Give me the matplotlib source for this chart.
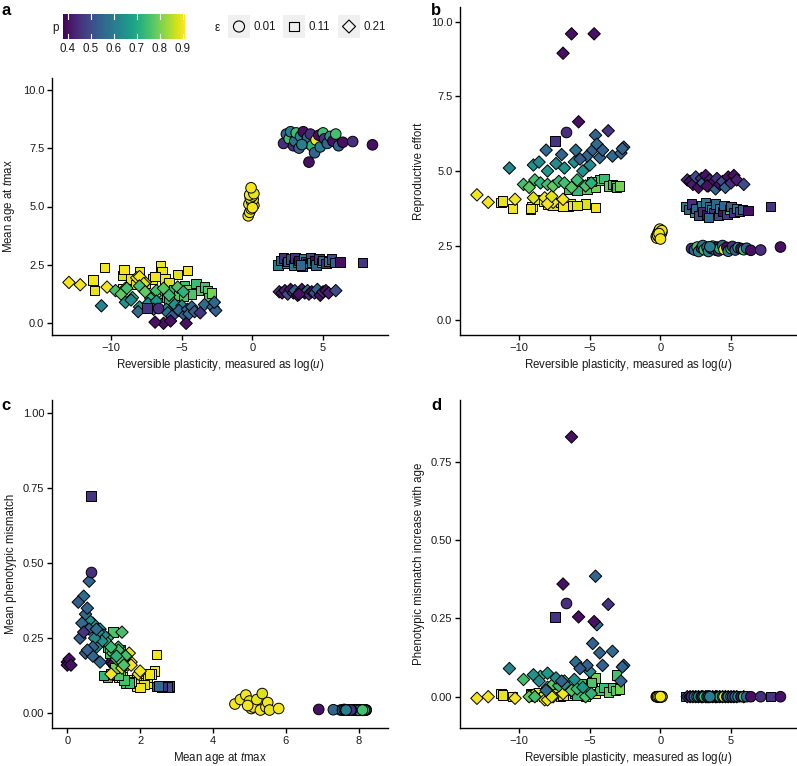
import numpy as np
import matplotlib
matplotlib.use("Agg")
import matplotlib.pyplot as plt
from matplotlib.colors import Normalize

plt.rcParams['font.family'] = ['Liberation Sans', 'DejaVu Sans']
plt.rcParams['mathtext.fontset'] = 'custom'
plt.rcParams['mathtext.rm'] = 'Liberation Sans'
plt.rcParams['mathtext.it'] = 'Liberation Sans:italic'

# --- eps = 0.01, high plasticity (circles) ---
logu_circ = [2.2, 2.4, 2.6, 2.7, 2.9, 3.0, 3.1, 3.3, 3.4, 3.6, 3.7, 3.9, 4.0, 4.1, 4.2,
             4.4, 4.5, 4.7, 4.8, 5.0, 5.1, 5.3, 5.5, 5.7, 5.9, 6.1, 6.4, 7.1, 8.5, 3.5]
p_circ = [0.45, 0.55, 0.75, 0.6, 0.45, 0.58, 0.75, 0.55, 0.62, 0.4, 0.75, 0.57, 0.4, 0.45, 0.72,
          0.55, 0.9, 0.4, 0.6, 0.75, 0.45, 0.55, 0.65, 0.4, 0.75, 0.55, 0.4, 0.45, 0.4, 0.6]
age_circ = [7.7, 8.1, 7.9, 8.2, 7.6, 7.8, 8.15, 7.5, 8.0, 8.2, 7.7, 7.95, 6.9, 8.1, 7.6,
            7.3, 7.85, 8.05, 7.55, 8.15, 7.9, 7.7, 8.0, 7.8, 8.1, 7.6, 7.75, 7.78, 7.64, 7.65]
effort_circ = [2.4, 2.35, 2.45, 2.3, 2.42, 2.5, 2.36, 2.44, 2.3, 2.4, 2.48, 2.35, 2.45, 2.32, 2.4,
               2.5, 2.37, 2.44, 2.31, 2.4, 2.47, 2.35, 2.43, 2.4, 2.36, 2.41, 2.34, 2.35, 2.45, 2.46]
mis_circ = [0.01, 0.009, 0.011, 0.01, 0.012, 0.01, 0.009, 0.01, 0.011, 0.01, 0.01, 0.009, 0.012, 0.01, 0.01,
            0.011, 0.01, 0.009, 0.01, 0.01, 0.011, 0.01, 0.009, 0.01, 0.01, 0.011, 0.01, 0.01, 0.01, 0.01]
inc_circ = [0.0] * 30

# --- eps = 0.01, log(u) near 0 (yellow circles) ---
logu_mid = [-0.3, -0.2, -0.1, 0.0, 0.1, -0.25, -0.05, 0.05, -0.15, 0.0, -0.2, 0.1, -0.1, 0.0]
p_mid = [0.9, 0.89, 0.9, 0.88, 0.9, 0.9, 0.89, 0.9, 0.88, 0.9, 0.9, 0.89, 0.9, 0.9]
age_mid = [4.6, 4.75, 4.9, 5.0, 5.05, 5.1, 5.2, 5.3, 5.35, 5.45, 5.5, 5.55, 5.8, 4.95]
effort_mid = [2.8, 2.9, 3.0, 2.85, 2.95, 2.75, 3.05, 2.9, 2.8, 2.95, 2.85, 3.0, 2.9, 2.72]
mis_mid = [0.03, 0.045, 0.06, 0.04, 0.015, 0.02, 0.045, 0.01, 0.065, 0.02, 0.035, 0.01, 0.015, 0.025]
inc_mid = [0.0] * 14

# --- eps = 0.11, high plasticity (squares) ---
logu_sq = [1.8, 2.0, 2.2, 2.4, 2.5, 2.7, 2.9, 3.0, 3.2, 3.3, 3.5, 3.6, 3.8, 3.9, 4.1,
           4.2, 4.4, 4.5, 4.7, 4.9, 5.0, 5.2, 5.4, 5.6, 5.8, 6.2, 7.8, 3.4]
p_sq = [0.6, 0.55, 0.45, 0.65, 0.55, 0.5, 0.6, 0.45, 0.58, 0.4, 0.55, 0.62, 0.45, 0.55, 0.5,
        0.6, 0.4, 0.55, 0.47, 0.75, 0.55, 0.45, 0.6, 0.5, 0.55, 0.4, 0.46, 0.56]
age_sq = [2.5, 2.7, 2.8, 2.55, 2.65, 2.75, 2.5, 2.8, 2.6, 2.7, 2.45, 2.75, 2.65, 2.55, 2.8,
          2.6, 2.7, 2.5, 2.75, 2.6, 2.7, 2.55, 2.65, 2.75, 2.6, 2.62, 2.6, 2.5]
effort_sq = [3.8, 3.7, 3.9, 3.6, 3.75, 3.5, 3.85, 3.65, 3.95, 3.55, 3.8, 3.7, 3.6, 3.9, 3.5,
             3.75, 3.65, 3.85, 3.55, 3.7, 3.8, 3.6, 3.75, 3.65, 3.7, 3.68, 3.8, 3.45]
mis_sq = [0.088, 0.09, 0.086, 0.089, 0.09, 0.087, 0.088, 0.09, 0.086, 0.089, 0.088, 0.09, 0.087, 0.088,
          0.09, 0.086, 0.089, 0.088, 0.09, 0.087, 0.088, 0.089, 0.09, 0.087, 0.088, 0.089, 0.088, 0.09]
inc_sq = [0.0] * 28

# --- eps = 0.21, high plasticity (diamonds) ---
logu_dia = [1.9, 2.1, 2.3, 2.5, 2.7, 2.9, 3.0, 3.2, 3.4, 3.5, 3.7, 3.9, 4.0, 4.2, 4.4,
            4.6, 4.8, 5.0, 5.2, 5.4, 5.9, 3.3]
p_dia = [0.45, 0.4, 0.42, 0.5, 0.4, 0.45, 0.55, 0.4, 0.47, 0.42, 0.4, 0.55, 0.45, 0.4, 0.5,
         0.55, 0.4, 0.45, 0.4, 0.42, 0.5, 0.4]
age_dia = [1.35, 1.3, 1.4, 1.25, 1.45, 1.3, 1.4, 1.2, 1.35, 1.45, 1.3, 1.4, 1.25, 1.35, 1.3,
           1.45, 1.2, 1.35, 1.4, 1.3, 1.4, 1.25]
effort_dia = [4.7, 4.65, 4.55, 4.8, 4.45, 4.75, 4.6, 4.85, 4.5, 4.7, 4.6, 4.4, 4.75, 4.55, 4.65,
              4.45, 4.8, 4.6, 4.85, 4.7, 4.55, 4.5]
mis_dia = [0.16, 0.17, 0.155, 0.165, 0.175, 0.16, 0.15, 0.17, 0.165, 0.155, 0.17, 0.16, 0.175, 0.165,
           0.16, 0.15, 0.17, 0.165, 0.16, 0.155, 0.17, 0.165]
inc_dia = [0.0] * 22

# --- eps = 0.11, low plasticity, yellow squares ---
logu_sqy = [-11.3, -11.2, -10.5, -9.2, -9.1, -9.2, -8.6, -8.0, -7.6, -7.1, -6.5, -6.4, -6.2, -5.3,
            -4.6, -8.3, -6.9, -5.9]
p_sqy = [0.9, 0.89, 0.9, 0.88, 0.9, 0.9, 0.89, 0.9, 0.88, 0.9, 0.9, 0.89, 0.9, 0.88, 0.9, 0.89, 0.9, 0.88]
age_sqy = [1.85, 1.4, 2.4, 2.05, 2.3, 1.5, 1.9, 2.2, 1.7, 1.9, 2.45, 2.2, 1.9, 2.1, 2.25, 1.65, 2.0, 1.75]
effort_sqy = [3.95, 4.0, 3.75, 3.7, 3.8, 3.75, 4.05, 3.9, 3.85, 3.95, 3.8, 3.9, 3.85, 3.9, 3.78, 4.0,
              3.8, 3.85]
mis_sqy = [0.10, 0.12, 0.14, 0.10, 0.13, 0.12, 0.10, 0.10, 0.11, 0.09, 0.195, 0.12, 0.11, 0.095,
           0.13, 0.10, 0.085, 0.105]
inc_sqy = [0.01, 0.005, 0.0, 0.01, 0.0, 0.005, 0.012, 0.0, 0.008, 0.0, 0.01, 0.015, 0.005, 0.0,
           0.01, 0.0, 0.005, 0.012]

# --- eps = 0.11, low plasticity, green squares ---
logu_sqg = [-6.5, -6.1, -5.6, -5.2, -4.8, -4.6, -4.3, -4.0, -3.7, -3.4, -3.2, -3.1, -2.9, -5.9, -4.9]
p_sqg = [0.75, 0.78, 0.74, 0.77, 0.75, 0.8, 0.76, 0.74, 0.78, 0.75, 0.77, 0.75, 0.8, 0.73, 0.76]
age_sqg = [1.3, 1.1, 1.45, 1.2, 1.6, 1.45, 1.25, 1.7, 1.4, 1.55, 1.4, 1.1, 1.3, 1.0, 1.15]
effort_sqg = [4.4, 4.45, 4.55, 4.4, 4.6, 4.45, 4.7, 4.75, 4.5, 4.55, 4.5, 4.45, 4.5, 4.35, 4.65]
mis_sqg = [0.125, 0.12, 0.21, 0.13, 0.10, 0.125, 0.27, 0.10, 0.18, 0.11, 0.125, 0.22, 0.15, 0.125, 0.20]
inc_sqg = [0.02, 0.01, 0.04, 0.03, 0.05, 0.06, 0.02, 0.03, 0.015, 0.03, 0.02, 0.07, 0.025, 0.005, 0.045]

# --- eps = 0.21, low plasticity (diamonds) ---
logu_dlo = [-13.0, -12.2, -10.3, -9.0, -8.2, -7.6, -6.9, -8.0, -7.7,
            -9.7, -9.3, -8.9, -8.5, -8.0, -7.6, -7.2, -6.8, -6.3, -5.9, -5.3, -4.9,
            -10.7, -9.0, -8.6, -8.0, -7.4, -6.8, -6.1, -5.5, -5.0,
            -8.1, -7.0, -6.0, -5.2, -4.8, -4.6, -4.5, -4.3, -4.1, -3.4, -2.8, -2.6, -2.7, -5.7,
            -3.7, -6.3, -4.7, -6.9, -5.8]
p_dlo = [0.9, 0.9, 0.9, 0.88, 0.9, 0.9, 0.9, 0.9, 0.88,
         0.75, 0.78, 0.75, 0.72, 0.75, 0.78, 0.73, 0.75, 0.77, 0.74, 0.76, 0.72,
         0.62, 0.65, 0.63, 0.66, 0.63, 0.65, 0.64, 0.65, 0.63,
         0.56, 0.55, 0.57, 0.55, 0.54, 0.55, 0.56, 0.55, 0.54, 0.56, 0.55, 0.54, 0.55, 0.53,
         0.46, 0.4, 0.4, 0.4, 0.4]
age_dlo = [1.75, 1.65, 1.55, 1.5, 1.95, 1.75, 1.2, 2.0, 1.7,
           1.4, 1.25, 1.5, 1.1, 1.6, 1.35, 1.05, 1.4, 1.5, 1.2, 1.55, 1.35,
           0.75, 0.9, 1.0, 0.7, 0.85, 0.95, 0.6, 0.8, 0.75,
           0.5, 0.6, 0.45, 0.55, 0.35, 0.6, 0.4, 0.7, 0.5, 0.8, 0.7, 0.55, 0.9, 0.3,
           0.45, 0.0, 0.0, 0.05, 0.1]
effort_dlo = [4.2, 3.95, 4.05, 4.1, 4.1, 3.95, 4.05, 3.9, 4.15,
              4.55, 4.45, 4.7, 4.6, 4.55, 4.5, 4.65, 4.6, 4.45, 4.7, 4.5, 4.6,
              5.1, 5.2, 5.3, 5.0, 5.25, 5.1, 5.3, 5.0, 5.2,
              5.7, 5.55, 5.7, 5.5, 5.7, 6.2, 5.9, 5.45, 5.7, 5.5, 5.6, 5.8, 5.75, 5.4,
              6.35, 9.6, 9.6, 8.95, 6.65]
mis_dlo = [0.17, 0.16, 0.18, 0.15, 0.13, 0.16, 0.13, 0.14, 0.20,
           0.22, 0.20, 0.27, 0.25, 0.19, 0.18, 0.24, 0.21, 0.17, 0.22, 0.16, 0.19,
           0.29, 0.28, 0.26, 0.30, 0.27, 0.24, 0.31, 0.22, 0.25,
           0.33, 0.28, 0.39, 0.35, 0.25, 0.44, 0.30, 0.22, 0.20, 0.28, 0.19, 0.21, 0.17, 0.37,
           0.27, 0.17, 0.16, 0.18, 0.16]
inc_dlo = [-0.005, 0.0, -0.005, 0.005, -0.01, 0.0, 0.01, -0.01, 0.0,
           0.055, 0.0, 0.0, 0.065, 0.03, 0.04, 0.035, 0.05, 0.02, 0.025, 0.0, 0.01,
           0.09, 0.07, 0.05, 0.075, 0.06, 0.04, 0.055, 0.03, 0.08,
           0.02, 0.05, 0.11, 0.10, 0.17, 0.385, 0.23, 0.14, 0.10, 0.145, 0.05, 0.10, 0.095, 0.09,
           0.295, 0.83, 0.24, 0.36, 0.255]

# --- two single outliers ---
logu_odd = [-6.7, -7.5]
p_odd = [0.45, 0.46]
eps_odd = ['o', 's']
age_odd = [0.65, 0.65]
effort_odd = [6.3, 6.0]
mis_odd = [0.47, 0.725]
inc_odd = [0.30, 0.255]

groups = [
    ('s', logu_sq, p_sq, age_sq, effort_sq, mis_sq, inc_sq),
    ('D', logu_dia, p_dia, age_dia, effort_dia, mis_dia, inc_dia),
    ('o', logu_circ, p_circ, age_circ, effort_circ, mis_circ, inc_circ),
    ('o', logu_mid, p_mid, age_mid, effort_mid, mis_mid, inc_mid),
    ('s', logu_sqy, p_sqy, age_sqy, effort_sqy, mis_sqy, inc_sqy),
    ('s', logu_sqg, p_sqg, age_sqg, effort_sqg, mis_sqg, inc_sqg),
    ('D', logu_dlo, p_dlo, age_dlo, effort_dlo, mis_dlo, inc_dlo),
]
for i in range(len(logu_odd)):
    groups.append((eps_odd[i], [logu_odd[i]], [p_odd[i]], [age_odd[i]],
                   [effort_odd[i]], [mis_odd[i]], [inc_odd[i]]))

sizes = {'o': 58, 's': 46, 'D': 40}
norm = Normalize(vmin=0.378, vmax=0.909)
cmap = plt.get_cmap('viridis')
text_col = '#1a1a1a'

W, H = 797, 766
fig = plt.figure(figsize=(W / 100, H / 100), dpi=100)


def px_axes(left, top, right, bottom):
    return fig.add_axes([left / W, 1 - bottom / H, (right - left) / W, (bottom - top) / H])


def style(ax):
    for s in ['top', 'right']:
        ax.spines[s].set_visible(False)
    for s in ['left', 'bottom']:
        ax.spines[s].set_linewidth(1.0)
        ax.spines[s].set_color('black')
    ax.tick_params(direction='out', length=3.5, width=1.0, labelsize=8, colors='black',
                   labelcolor=text_col, pad=2)


ax_a = px_axes(52, 78, 388, 335)
ax_b = px_axes(460, 7, 796, 335)
ax_c = px_axes(52, 400, 388, 728)
ax_d = px_axes(460, 400, 796, 728)

xlab = r'Reversible plasticity, measured as log($\it{u}$)'
agelab = r'Mean age at $\it{t}$max'

# x index, y index within a group tuple
panels = [
    (ax_a, 1, 3, xlab, agelab),
    (ax_b, 1, 4, xlab, 'Reproductive effort'),
    (ax_c, 3, 5, agelab, 'Mean phenotypic mismatch'),
    (ax_d, 1, 6, xlab, 'Phenotypic mismatch increase with age'),
]

for ax, xi, yi, xl, yl in panels:
    for g in groups:
        ax.scatter(g[xi], g[yi], c=g[2], cmap=cmap, norm=norm, marker=g[0],
                   s=sizes[g[0]], edgecolors='black', linewidths=0.7, zorder=3)
    style(ax)
    ax.set_xlabel(xl, fontsize=8.3, color=text_col, labelpad=3)
    ax.set_ylabel(yl, fontsize=8.3, color=text_col, labelpad=4)

for ax in [ax_a, ax_b, ax_d]:
    ax.set_xlim(-14.2, 9.6)
    ax.set_xticks([-10, -5, 0, 5])
    ax.set_xticklabels(['\u221210', '\u22125', '0', '5'])

ax_a.set_ylim(-0.5, 10.5)
ax_b.set_ylim(-0.5, 10.5)
for ax in [ax_a, ax_b]:
    ax.set_yticks([0, 2.5, 5, 7.5, 10])
    ax.set_yticklabels(['0.0', '2.5', '5.0', '7.5', '10.0'])

ax_c.set_xlim(-0.42, 8.8)
ax_c.set_xticks([0, 2, 4, 6, 8])
ax_c.set_ylim(-0.05, 1.045)
ax_c.set_yticks([0, 0.25, 0.5, 0.75, 1.0])
ax_c.set_yticklabels(['0.00', '0.25', '0.50', '0.75', '1.00'])

ax_d.set_ylim(-0.1, 0.948)
ax_d.set_yticks([0, 0.25, 0.5, 0.75])
ax_d.set_yticklabels(['0.00', '0.25', '0.50', '0.75'])

# panel letters
fig.text(1 / W, 1 - 3 / H, 'a', fontsize=12, fontweight='bold', va='top', ha='left')
fig.text(431 / W, 1 - 3 / H, 'b', fontsize=12, fontweight='bold', va='top', ha='left')
fig.text(1 / W, 1 - 398 / H, 'c', fontsize=12, fontweight='bold', va='top', ha='left')
fig.text(431 / W, 1 - 398 / H, 'd', fontsize=12, fontweight='bold', va='top', ha='left')

# colour bar legend for p
cax = px_axes(63, 14, 185, 39)
sm = matplotlib.cm.ScalarMappable(norm=norm, cmap=cmap)
cb = fig.colorbar(sm, cax=cax, orientation='horizontal')
cb.outline.set_visible(False)
cb_ticks = [0.4, 0.5, 0.6, 0.7, 0.8, 0.9]
cb.set_ticks(cb_ticks)
cb.set_ticklabels(['0.4', '0.5', '0.6', '0.7', '0.8', '0.9'])
cax.tick_params(length=0, labelsize=8.3, labelcolor=text_col, pad=3)
for t in cb_ticks:
    cax.plot([t, t], [0, 0.2], color='white', lw=0.8, transform=cax.get_xaxis_transform())
    cax.plot([t, t], [0.8, 1], color='white', lw=0.8, transform=cax.get_xaxis_transform())
fig.text(52 / W, 1 - 28 / H, 'p', fontsize=8.5, color=text_col, va='center', ha='left')

# shape legend for epsilon
lax = fig.add_axes([0, 0, 1, 1])
lax.set_xlim(0, W)
lax.set_ylim(H, 0)
lax.axis('off')
lax.patch.set_alpha(0)
lax.text(215, 28, '\u03b5', fontsize=8.5, color=text_col, va='center', ha='left')
eps_marks = ['o', 's', 'D']
eps_labels = ['0.01', '0.11', '0.21']
eps_x = [228, 283, 338]
for m, lab, x0 in zip(eps_marks, eps_labels, eps_x):
    lax.add_patch(plt.Rectangle((x0, 15), 22, 23, color='#f0f0f0', lw=0))
    lax.scatter([x0 + 11], [26.5], marker=m, s=sizes[m] * 1.1, facecolors='none',
                edgecolors='black', linewidths=0.8)
    lax.text(x0 + 26, 27, lab, fontsize=8.3, color=text_col, va='center', ha='left')

fig.savefig('out.png', dpi=100)
